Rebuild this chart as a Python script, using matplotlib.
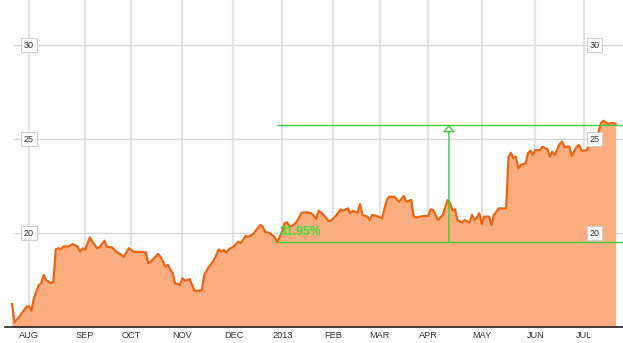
import matplotlib
matplotlib.use('Agg')
import matplotlib.pyplot as plt
from matplotlib.patches import FancyArrowPatch
import matplotlib.transforms as mtransforms

plt.rcParams['font.family'] = ['Liberation Sans', 'DejaVu Sans']

# ── Palette ─────────────────────────────────────────────
line_color = '#ee6414'
fill_color = '#fcad7f'
green = '#3ccf3c'
grid_color = '#e3e3e3'
text_color = '#333333'

# ── Data: trading-session index (Jul 23 2012 = 0) and close price ──
session = [0, 1, 2, 3, 5, 6, 7, 8, 9, 11, 12, 13, 14, 16, 17, 18, 19, 20, 21, 22,
           23, 25, 27, 28, 29, 30, 32, 33, 35, 36, 38, 39, 41, 43, 46, 48, 50, 52, 55, 56,
           57, 60, 61, 63, 64, 66, 67, 68, 69, 70, 71, 73, 74, 75, 77, 78, 79, 80, 81, 82,
           83, 85, 86, 87, 88, 89, 91, 93, 94, 96, 97, 99, 102, 103, 104, 106, 108, 109, 111, 112,
           113, 114, 115, 117, 119, 121, 123, 125, 126, 128, 130, 131, 133, 135, 136, 138, 139, 140, 142, 143,
           144, 146, 147, 148, 150, 152, 154, 155, 157, 159, 161, 162, 164, 165, 166, 169, 171, 172, 173, 175,
           177, 179, 180, 181, 182, 183, 185, 186, 188, 189, 190, 191, 192, 193, 194, 196, 197, 198, 200, 203,
           204, 205, 206, 207, 208, 209, 211, 212, 213, 214, 215, 217, 218, 220, 221, 222, 223, 225, 226, 227,
           229, 230, 232, 233, 234, 236, 237, 240, 241, 242, 243, 245, 246, 247, 248]
price = [16.22, 15.23, 15.40, 15.55, 15.90, 16.08, 16.10, 15.87, 16.54, 17.23, 17.32, 17.77, 17.50, 17.34, 17.42, 19.13, 19.19, 19.13, 19.27, 19.30,
         19.27, 19.41, 19.27, 19.00, 19.19, 19.10, 19.77, 19.54, 19.19, 19.24, 19.59, 19.27, 19.24, 19.00, 18.74, 19.19, 19.00, 19.00, 18.97, 18.39,
         18.47, 18.88, 18.74, 18.21, 18.30, 17.86, 17.32, 17.29, 17.23, 17.59, 17.46, 17.55, 17.23, 16.93, 16.93, 16.97, 17.77, 18.00, 18.21, 18.39,
         18.56, 19.13, 19.00, 19.10, 18.95, 19.13, 19.27, 19.54, 19.45, 19.84, 19.80, 19.93, 20.43, 20.34, 20.07, 19.98, 19.77, 19.51, 20.07, 20.52,
         20.57, 20.37, 20.36, 20.60, 21.08, 21.10, 21.05, 20.75, 21.19, 20.96, 20.65, 20.65, 20.90, 21.26, 21.19, 21.31, 21.05, 21.17, 21.08, 21.54,
         20.96, 20.87, 20.69, 20.96, 20.90, 20.78, 21.76, 21.93, 21.93, 21.66, 21.97, 21.66, 21.76, 20.90, 20.83, 20.90, 20.90, 21.26, 21.22, 20.69,
         20.96, 21.76, 21.58, 21.19, 21.26, 20.69, 20.55, 20.69, 20.55, 20.96, 20.69, 20.83, 21.05, 20.48, 20.87, 20.87, 20.43, 20.96, 21.31, 21.31,
         24.06, 24.27, 23.97, 24.06, 23.43, 23.62, 23.71, 24.24, 24.38, 24.15, 24.41, 24.41, 24.59, 24.45, 24.06, 24.33, 24.15, 24.73, 24.86, 24.59,
         24.59, 24.10, 24.59, 24.68, 24.38, 24.38, 24.68, 24.62, 25.40, 25.86, 25.97, 25.80, 25.84, 25.86, 25.80]

month_sessions = [7, 30, 49, 70, 91, 111, 132, 151, 171, 193, 215, 235]
month_labels = ['AUG', 'SEP', 'OCT', 'NOV', 'DEC', '2013', 'FEB', 'MAR', 'APR', 'MAY', 'JUN', 'JUL']
y_levels = [20, 25, 30]

# Measured range: from the low to the latest level
low_session = 109
low_value = 19.51
pct_change = 31.95
high_value = low_value * (1 + pct_change / 100)
arrow_session = 179.5

# ── Figure ──────────────────────────────────────────────
W, H = 623, 343
fig = plt.figure(figsize=(W / 100, H / 100), dpi=100, facecolor='white')
ax = fig.add_axes([0, 16 / H, 1, 327 / H])
ax.set_facecolor('white')

px_per_session = 2.434
x0_px = 12
xmin = -x0_px / px_per_session
xmax = (W - x0_px) / px_per_session
ax.set_xlim(xmin, xmax)
ax.set_ylim(15, 15 + 327 / 18.8)

# grid
for m in month_sessions:
    ax.axvline(m, color=grid_color, lw=1.6, zorder=0)
ax.hlines(y_levels, (13 - x0_px) / px_per_session, xmax, color='#d8d8d8', lw=1.0, zorder=0)

# area + line
ax.fill_between(session, price, 15, color=fill_color, lw=0, zorder=1)
ax.plot(session, price, color=line_color, lw=1.6, solid_joinstyle='round', zorder=3)

# ── Green range measurement ─────────────────────────────
ax.hlines([low_value, high_value], low_session, xmax, color=green, lw=1.0, zorder=4)
arr = FancyArrowPatch((arrow_session, low_value), (arrow_session, high_value),
                      arrowstyle='-|>,head_length=4,head_width=3.5',
                      mutation_scale=1, color=green, fc='white', lw=1.0,
                      shrinkA=0, shrinkB=0, zorder=5)
ax.add_patch(arr)
ax.annotate(f'{pct_change:.2f}%', xy=(low_session, low_value), xytext=(2, 5.5),
            textcoords='offset points', color='#36e036', fontsize=8.8,
            fontweight='bold', ha='left', va='baseline', zorder=6)

# ── Boxed y labels on both sides ────────────────────────
trans = mtransforms.blended_transform_factory(ax.transAxes, ax.transData)
for v in y_levels:
    for xf in (29 / W, 594.5 / W):
        ax.text(xf, v, str(v), transform=trans, ha='center', va='center',
                fontsize=6.5, color=text_color, zorder=7,
                bbox=dict(boxstyle='square,pad=0.3', fc='white', ec='#cfcfcf', lw=0.8))

# ── Axes config ─────────────────────────────────────────
ax.set_xticks(month_sessions)
ax.set_xticklabels(month_labels, fontsize=6.6, color=text_color)
ax.tick_params(axis='x', length=0, pad=2.8)
ax.set_yticks([])
for s in ['top', 'right', 'left']:
    ax.spines[s].set_visible(False)
ax.spines['bottom'].set_color('#222222')
ax.spines['bottom'].set_linewidth(1.2)
ax.spines['bottom'].set_bounds((5 - x0_px) / px_per_session, xmax)
ax.spines['bottom'].set_zorder(8)

fig.savefig('out.png', dpi=100, facecolor='white')
